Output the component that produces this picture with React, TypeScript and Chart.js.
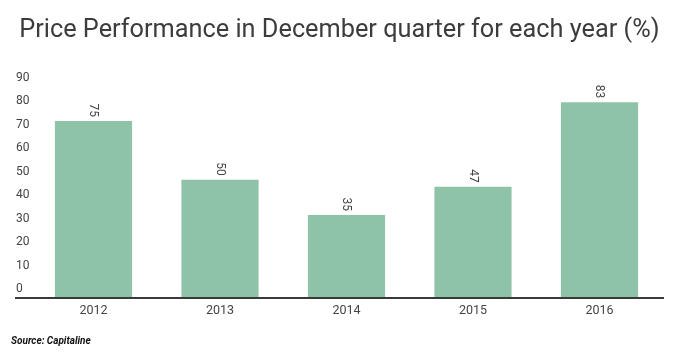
import React, { useEffect, useRef } from "react";
import { Chart, registerables } from "chart.js";

Chart.register(...registerables);

const years = ["2012", "2013", "2014", "2015", "2016"];
const performance = [75, 50, 35, 47, 83];
const titleText = "Price Performance in December quarter for each year (%)";
const sourceText = "Source: Capitaline";

const barColor = "#8ec3a7";
const textColor = "#444444";

const overlayPlugin = {
  id: "overlay",
  afterDatasetsDraw(chart: any) {
    const { ctx, scales } = chart;
    const y = scales.y;
    const meta = chart.getDatasetMeta(0);
    ctx.save();
    // value labels, rotated
    ctx.font = "12px Roboto";
    ctx.fillStyle = textColor;
    ctx.textAlign = "right";
    ctx.textBaseline = "middle";
    meta.data.forEach((bar: any, i: number) => {
      ctx.save();
      ctx.translate(bar.x - 0.5, bar.y - 4);
      ctx.rotate(Math.PI / 2);
      ctx.fillText(String(performance[i]), 0, 0);
      ctx.restore();
    });
    // baseline axis
    const zy = y.getPixelForValue(0) + 1;
    ctx.beginPath();
    ctx.strokeStyle = "#3a3a3a";
    ctx.lineWidth = 2;
    ctx.moveTo(7, zy);
    ctx.lineTo(656, zy);
    ctx.stroke();
    // source
    ctx.font = "bold italic 10px Roboto";
    ctx.fillStyle = "#111111";
    ctx.textAlign = "left";
    ctx.textBaseline = "middle";
    ctx.fillText(sourceText, 3, chart.height - 11.3);
    ctx.restore();
  },
};

export default function App() {
  const ref = useRef<HTMLCanvasElement | null>(null);
  useEffect(() => {
    if (!ref.current) return;
    const chart = new Chart(ref.current, {
      type: "bar",
      data: {
        labels: years,
        datasets: [
          {
            data: performance,
            backgroundColor: barColor,
            borderWidth: 0,
            categoryPercentage: 1,
            barPercentage: 0.61,
          },
        ],
      },
      options: {
        animation: false,
        responsive: false,
        layout: { padding: { left: 8, right: 5.25, top: 0, bottom: 0 } },
        plugins: {
          legend: { display: false },
          tooltip: { enabled: false },
          title: {
            display: true,
            text: titleText,
            color: "#3c3c3c",
            font: { family: "Roboto", size: 25.3, weight: "normal", lineHeight: 1.2 },
            padding: { top: 7, bottom: 17 },
          },
        },
        scales: {
          x: {
            grid: { display: false, drawTicks: false },
            border: { display: false },
            ticks: {
              color: textColor,
              font: { family: "Roboto", size: 12.5 },
              padding: 6,
              maxRotation: 0,
            },
            afterFit: (scale: any) => {
              scale.height = 56;
            },
          },
          y: {
            min: 0,
            max: 100,
            grid: { display: false, drawTicks: false },
            border: { display: false },
            ticks: {
              stepSize: 10,
              color: textColor,
              font: { family: "Roboto", size: 12 },
              crossAlign: "far",
              labelOffset: -8,
              callback: (v: any) => (v === 100 ? "" : v),
            },
            afterFit: (scale: any) => {
              scale.width = 14.25;
            },
          },
        },
      },
      plugins: [overlayPlugin],
    });
    return () => chart.destroy();
  }, []);
  return (
    <div style={{ width: 660, height: 345 }}>
      <canvas ref={ref} width={660} height={345} style={{ display: "block" }} />
    </div>
  );
}
